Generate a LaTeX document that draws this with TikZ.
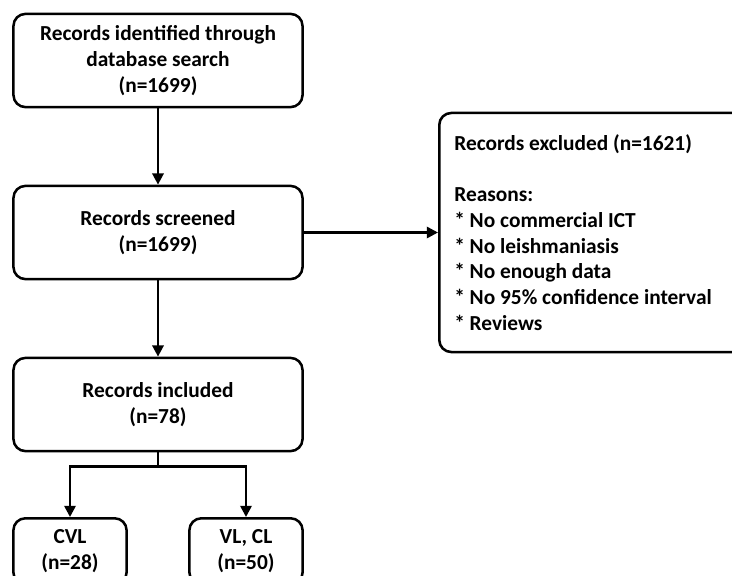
\documentclass[tikz,border=0pt]{standalone}
\usepackage{fontspec}
\setmainfont{Carlito}
\usetikzlibrary{arrows.meta}
\begin{document}
\begin{tikzpicture}[x=0.025cm,y=-0.025cm,
  font=\bfseries\fontsize{15.2}{18.3}\selectfont,
  box/.style={draw,line width=1.8pt,rounded corners=0.3cm,align=center,inner sep=0pt},
  bigbox/.style={box,minimum width=7.225cm,minimum height=2.33cm},
  smallbox/.style={box,anchor=north,minimum width=2.83cm,minimum height=1.65cm},
  arr/.style={line width=1.8pt,-{Triangle[length=8pt,width=8pt]}}]
\useasboundingbox (0,0) rectangle (732,575);
\node[bigbox] (ident) at (158,60.5) {Records identified through\\database search\\(n=1699)};
\node[bigbox] (screen) at (158,232.5) {Records screened\\(n=1699)};
\node[bigbox] (incl) at (158,404.5) {Records included\\(n=78)};
\node[box,anchor=west,minimum width=8cm,minimum height=5.975cm,text width=7.25cm,align=left,inner xsep=0.375cm] (excl) at (438,232.5)
  {\spaceskip=0pt\xspaceskip=0pt Records excluded (n=1621)\\[18.3pt]Reasons:\\{}* No commercial ICT\\{}* No leishmaniasis\\{}* No enough data\\{}* No 95\% confidence interval\\{}* Reviews};
\node[smallbox] (cvl) at (70,517) {CVL\\(n=28)};
\node[smallbox] (vlcl) at (246,517) {VL, CL\\(n=50)};
\draw[arr] (ident) -- (screen);
\draw[arr] (screen) -- (incl);
\draw[arr] (screen.east) -- (screen.east -| excl.west);
\draw[line width=1.8pt] (incl.south) -- ++(0,14) coordinate (split);
\draw[arr] (split) -| (cvl.north);
\draw[arr] (split) -| (vlcl.north);
\end{tikzpicture}
\end{document}
